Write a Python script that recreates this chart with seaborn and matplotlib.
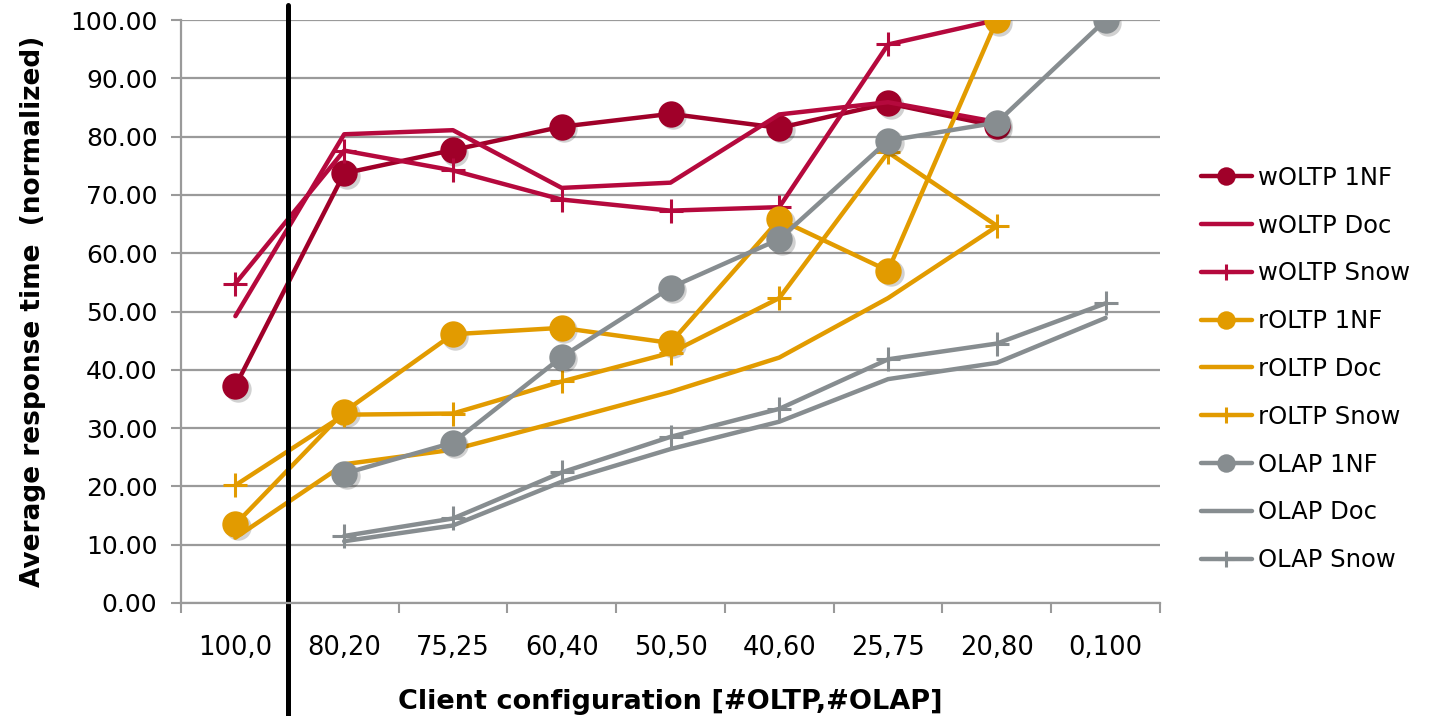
import numpy as np
import pandas as pd
import matplotlib
matplotlib.use("Agg")
import matplotlib.pyplot as plt
import matplotlib.transforms as mtransforms
import seaborn as sns

# Client configurations [#OLTP,#OLAP]
configs = ["100,0", "80,20", "75,25", "60,40", "50,50", "40,60", "25,75", "20,80", "0,100"]
nan = np.nan

# Average response time (normalized) per series
woltp_1nf = [37.2, 73.7, 77.7, 81.7, 83.9, 81.5, 85.7, 81.8, nan]
woltp_doc = [49.2, 80.4, 81.1, 71.2, 72.1, 83.8, 85.9, 82.5, nan]
woltp_snow = [54.8, 77.6, 74.2, 69.2, 67.3, 67.9, 95.8, 100.0, nan]
roltp_1nf = [13.5, 32.8, 46.1, 47.2, 44.6, 65.8, 57.0, 100.0, nan]
roltp_doc = [11.2, 23.8, 26.3, 31.2, 36.2, 42.1, 52.3, 64.6, nan]
roltp_snow = [20.2, 32.3, 32.5, 38.0, 42.9, 52.3, 77.3, 64.7, nan]
olap_1nf = [nan, 22.2, 27.5, 42.2, 54.1, 62.4, 79.3, 82.4, 100.0]
olap_doc = [nan, 10.6, 13.3, 20.8, 26.4, 31.1, 38.4, 41.2, 48.9]
olap_snow = [nan, 11.5, 14.5, 22.4, 28.5, 33.3, 41.8, 44.5, 51.4]

series_names = ["wOLTP 1NF", "wOLTP Doc", "wOLTP Snow",
                "rOLTP 1NF", "rOLTP Doc", "rOLTP Snow",
                "OLAP 1NF", "OLAP Doc", "OLAP Snow"]
series_values = [woltp_1nf, woltp_doc, woltp_snow,
                 roltp_1nf, roltp_doc, roltp_snow,
                 olap_1nf, olap_doc, olap_snow]

RED_DARK = "#A00029"
RED = "#B5093D"
ORANGE = "#E29B00"
GRAY = "#878D90"
colors = [RED_DARK, RED, RED, ORANGE, ORANGE, ORANGE, GRAY, GRAY, GRAY]
markers = ["o", None, "+", "o", None, "+", "o", None, "+"]

sns.set_theme(style="white")
plt.rcParams["font.family"] = ["DejaVu Sans"]
plt.rcParams["text.color"] = "black"
plt.rcParams["xtick.color"] = "black"
plt.rcParams["ytick.color"] = "black"
plt.rcParams["axes.labelcolor"] = "black"

fig = plt.figure(figsize=(14.35, 7.16), dpi=100)
ax = fig.add_axes([181 / 1435, 113 / 716, (1160 - 181) / 1435, (603 - 20) / 716])

# soft drop shadow under the round markers
shadow_tf = mtransforms.offset_copy(ax.transData, fig=fig, x=1.8, y=-1.8, units="points")

x_pos = np.arange(len(configs))
for name, vals, col, mk in zip(series_names, series_values, colors, markers):
    df = pd.DataFrame({"x": x_pos, "y": vals}).dropna()
    kw = dict(color=col, linewidth=3.2, label=name, ax=ax, solid_capstyle="round",
              solid_joinstyle="round")
    if mk == "o":
        kw.update(marker="o", markersize=19, markeredgewidth=0,
                  markerfacecolor=col, markeredgecolor=col)
        ax.plot(df["x"], df["y"], linestyle="none", marker="o", markersize=19,
                markeredgewidth=0, color="black", alpha=0.18, transform=shadow_tf)
    elif mk == "+":
        kw.update(marker="+", markersize=17, markeredgewidth=2.2,
                  markeredgecolor=col, markerfacecolor=col)
    sns.lineplot(data=df, x="x", y="y", **kw)

ax.set_xlim(-0.5, len(configs) - 0.5)
ax.set_ylim(0, 100)

# horizontal gridlines and y axis
ax.set_yticks(np.arange(0, 101, 10))
ax.set_yticklabels([f"{v:.2f}" for v in np.arange(0, 101, 10)], fontsize=18)
ax.yaxis.grid(True, color="#9A9A9A", linewidth=1.6)
ax.xaxis.grid(False)
ax.set_axisbelow(True)
ax.tick_params(axis="y", which="major", direction="out", length=7, width=1.5,
               color="#9A9A9A", labelcolor="black", pad=10, left=True)

# category boundaries as ticks, labels centred in each category
ax.set_xticks(np.arange(-0.5, len(configs), 1.0))
ax.set_xticklabels([])
ax.set_xticks(x_pos, minor=True)
ax.set_xticklabels(configs, minor=True, fontsize=18.5)
ax.tick_params(axis="x", which="major", direction="out", length=7, width=1.5,
               color="#9A9A9A", bottom=True)
ax.tick_params(axis="x", which="minor", length=0, pad=23, labelcolor="black")

for side in ["top", "right"]:
    ax.spines[side].set_visible(False)
for side in ["left", "bottom"]:
    ax.spines[side].set_color("#9A9A9A")
    ax.spines[side].set_linewidth(1.6)

ax.set_xlabel("Client configuration [#OLTP,#OLAP]", fontsize=19.5, fontweight="bold",
              labelpad=20)
ax.set_ylabel("Average response time  (normalized)", fontsize=19, fontweight="bold",
              labelpad=17)

# separator between the pure-OLTP run and the mixed workloads
ax.axvline(0.48, ymin=-0.2, ymax=1.026, color="black", linewidth=3.6, clip_on=False)

leg = ax.legend(loc="center left", bbox_to_anchor=(1191 / 1435, 347 / 716),
                bbox_transform=fig.transFigure, frameon=False, fontsize=17.5,
                markerscale=0.7, handlelength=2.1, handletextpad=0.25,
                labelspacing=0.98, borderaxespad=0)

fig.savefig("out.png", dpi=100)
